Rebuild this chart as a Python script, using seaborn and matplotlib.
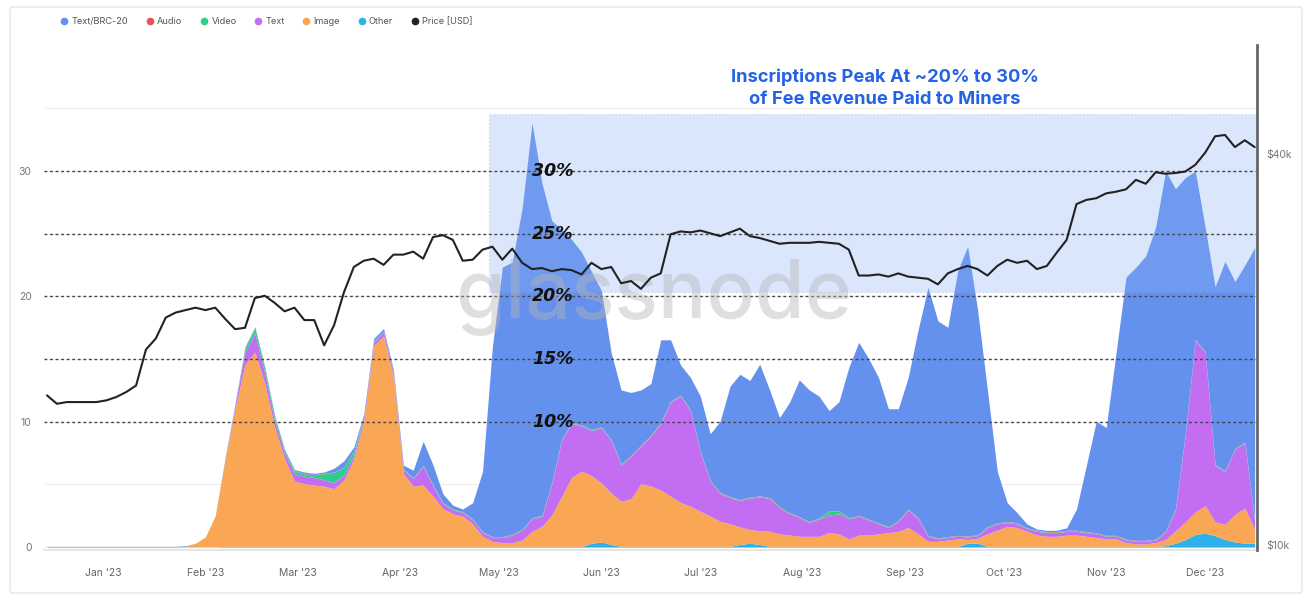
import numpy as np
import pandas as pd
import seaborn as sns
import matplotlib.pyplot as plt
import matplotlib.dates as mdates
from matplotlib.lines import Line2D
from matplotlib.patches import Rectangle, FancyBboxPatch

# Share of fee revenue (%) per inscription type, sampled every 3 days
dates = pd.date_range("2022-12-15", periods=123, freq="3D")

other = [0, 0, 0, 0, 0, 0, 0, 0, 0, 0,
         0, 0, 0, 0, 0, 0, 0, 0, 0.05, 0.05,
         0.05, 0.05, 0.05, 0.05, 0.05, 0.05, 0.05, 0.05, 0.05, 0.05,
         0.05, 0.05, 0.05, 0.05, 0.05, 0.05, 0.05, 0.05, 0.05, 0.05,
         0.05, 0.05, 0.05, 0.05, 0.05, 0.05, 0.05, 0.05, 0.05, 0.05,
         0.05, 0.05, 0.05, 0.05, 0.05, 0.3, 0.4, 0.2, 0.05, 0.05,
         0.05, 0.05, 0.05, 0.05, 0.05, 0.05, 0.05, 0.05, 0.05, 0.05,
         0.2, 0.3, 0.2, 0.05, 0.05, 0.05, 0.05, 0.05, 0.05, 0.05,
         0.05, 0.05, 0.05, 0.05, 0.05, 0.05, 0.05, 0.05, 0.05, 0.05,
         0.05, 0.05, 0.05, 0.3, 0.3, 0.05, 0.05, 0.05, 0.05, 0.05,
         0.05, 0.05, 0.05, 0.05, 0.05, 0.05, 0.05, 0.05, 0.05, 0.05,
         0.05, 0.05, 0.05, 0.1, 0.3, 0.6, 1.0, 1.1, 0.9, 0.6,
         0.4, 0.3, 0.3]

image = [0, 0, 0, 0, 0, 0, 0, 0, 0, 0,
         0, 0, 0, 0, 0.05, 0.3, 0.8, 2.5, 7.0, 11.0,
         14.5, 15.5, 13.0, 9.5, 7.0, 5.2, 5.0, 4.9, 4.8, 4.6,
         5.3, 7.0, 10.0, 16.0, 16.8, 13.5, 5.8, 4.8, 4.9, 4.0,
         3.0, 2.6, 2.4, 1.8, 0.8, 0.4, 0.3, 0.3, 0.5, 1.2,
         1.6, 2.5, 4.0, 5.5, 6.0, 5.4, 4.7, 4.1, 3.6, 3.8,
         5.0, 4.8, 4.5, 4.0, 3.5, 3.2, 2.8, 2.4, 2.0, 1.8,
         1.4, 1.1, 1.1, 1.2, 1.0, 0.9, 0.8, 0.8, 0.8, 1.1,
         1.0, 0.6, 0.9, 0.9, 1.0, 1.1, 1.2, 1.5, 1.0, 0.4,
         0.4, 0.5, 0.6, 0.3, 0.4, 1.0, 1.3, 1.6, 1.5, 1.2,
         0.9, 0.8, 0.8, 0.9, 0.9, 0.8, 0.7, 0.6, 0.6, 0.3,
         0.2, 0.2, 0.3, 0.5, 1.0, 1.4, 1.8, 2.2, 1.1, 1.2,
         2.2, 2.8, 1.1]

text = [0, 0, 0, 0, 0, 0, 0, 0, 0, 0,
        0, 0, 0, 0, 0, 0, 0, 0, 0, 0.3,
        1.0, 1.5, 0.8, 0.5, 0.4, 0.6, 0.6, 0.6, 0.5, 0.5,
        0.4, 0.3, 0.3, 0.3, 0.3, 0.3, 0.3, 0.6, 1.5, 0.8,
        0.4, 0.3, 0.3, 0.3, 0.3, 0.3, 0.4, 0.6, 0.8, 1.0,
        0.8, 2.5, 4.5, 4.3, 3.6, 3.6, 4.4, 4.2, 2.9, 3.4,
        3.0, 4.0, 5.3, 7.5, 8.5, 7.6, 4.7, 2.8, 2.2, 2.1,
        2.1, 2.5, 2.7, 2.6, 2.1, 1.7, 1.5, 1.1, 1.4, 1.4,
        1.6, 1.6, 1.5, 1.2, 0.8, 0.4, 0.8, 1.4, 1.2, 0.4,
        0.2, 0.2, 0.2, 0.2, 0.2, 0.5, 0.5, 0.3, 0.3, 0.2,
        0.3, 0.3, 0.3, 0.3, 0.3, 0.3, 0.3, 0.2, 0.2, 0.2,
        0.2, 0.2, 0.2, 0.6, 1.7, 7.0, 13.7, 12.2, 4.5, 4.2,
        5.2, 5.2, 0.6]

video = [0] * 20 + [0.3, 0.4, 0.4, 0.3, 0.2, 0.2, 0.2, 0.2, 0.5, 0.8,
                    0.6, 0.3] + [0.05] * 47 + [0.3, 0.2] + [0.05] * 42

audio = [0] * 20 + [0.03] * 103

brc20 = [0.05, 0.05, 0.05, 0.05, 0.05, 0.05, 0.05, 0.05, 0.05, 0.05,
         0.05, 0.05, 0.05, 0.05, 0.05, 0, 0, 0, 0.1, 0.1,
         0.1, 0.1, 0.1, 0.1, 0.1, 0.1, 0.1, 0.1, 0.1, 0.3,
         0.5, 0.3, 0.2, 0.2, 0.2, 0.2, 0.3, 0.6, 1.9, 1.6,
         0.7, 0.3, 0.2, 1.3, 4.8, 15.2, 21.5, 21.7, 25.6, 31.5,
         26.5, 20.9, 16.7, 14.6, 13.8, 12.6, 10.9, 6.9, 5.9, 5.0,
         4.4, 4.1, 6.6, 4.9, 2.4, 2.6, 4.4, 3.7, 5.7, 8.8,
         10.0, 9.3, 10.5, 8.6, 7.1, 8.8, 10.9, 10.5, 9.7, 8.0,
         8.7, 12.0, 13.8, 12.8, 11.6, 9.4, 8.9, 10.5, 15.0, 19.8,
         17.3, 16.7, 21.1, 23.1, 18.0, 10.9, 4.1, 1.5, 0.8, 0.3,
         0.1, 0.1, 0.1, 0.2, 1.7, 5.3, 8.9, 8.6, 14.6, 20.9,
         21.8, 22.7, 24.9, 28.7, 25.5, 20.4, 13.4, 9.9, 14.2, 16.7,
         13.3, 14.1, 21.8]

# BTC price in $k
price_k = [17.0, 16.5, 16.6, 16.6, 16.6, 16.6, 16.7, 16.9, 17.2, 17.6,
           20.0, 20.8, 22.4, 22.8, 23.0, 23.2, 23.0, 23.2, 22.3, 21.5,
           21.6, 24.0, 24.2, 23.6, 22.9, 23.2, 22.2, 22.2, 20.3, 21.8,
           24.5, 26.8, 27.4, 27.6, 27.0, 28.0, 28.0, 28.3, 27.6, 29.8,
           30.0, 29.5, 27.4, 27.5, 28.5, 28.8, 27.5, 28.6, 27.2, 26.6,
           26.7, 26.4, 26.6, 26.5, 26.1, 27.2, 26.6, 26.8, 25.3, 25.5,
           24.8, 25.8, 26.2, 30.1, 30.4, 30.3, 30.5, 30.2, 29.9, 30.3,
           30.7, 29.9, 29.7, 29.4, 29.1, 29.2, 29.2, 29.2, 29.3, 29.2,
           29.1, 28.5, 26.0, 26.0, 26.1, 25.9, 26.2, 25.9, 25.8, 25.7,
           25.2, 26.2, 26.6, 26.9, 26.6, 26.0, 26.9, 27.5, 27.2, 27.4,
           26.6, 26.9, 28.2, 29.5, 33.5, 34.0, 34.2, 34.8, 35.0, 35.3,
           36.5, 36.0, 37.5, 37.3, 37.4, 37.6, 38.5, 40.2, 42.6, 42.8,
           41.0, 42.0, 41.0]

labels = ["Text/BRC-20", "Audio", "Video", "Text", "Image", "Other", "Price [USD]"]
colors = ["#6591ee", "#e8525f", "#2fcf8b", "#c36ef2", "#f9a655", "#2db1ec", "#222222"]
pct_levels = [30, 25, 20, 15, 10]

sns.set_theme(style="white")
plt.rcParams["font.family"] = ["Inter", "DejaVu Sans"]

fig = plt.figure(figsize=(13.14, 6.05), dpi=100)
fig.patch.set_facecolor("white")
ax = fig.add_axes([44 / 1314, 55 / 605, 1213 / 1314, 505 / 605])

# light background grid
for lvl in range(0, 40, 5):
    ax.axhline(lvl, color="#eeeeee", lw=0.8, zorder=0)

# stacked areas: bottom -> top
ax.stackplot(dates, other, image, text, video, audio, brc20,
             colors=[colors[5], colors[4], colors[3], colors[2], colors[1], colors[0]],
             linewidth=0, zorder=1)

x0 = mdates.date2num(pd.Timestamp("2023-01-01") - pd.Timedelta(days=17.9))
x1 = mdates.date2num(pd.Timestamp("2023-01-01") + pd.Timedelta(days=349.7))
ax.set_xlim(x0, x1)
ax.set_ylim(-0.24, 40.05)

# highlighted zone
rx = mdates.date2num(pd.Timestamp("2023-04-28"))
ax.add_patch(Rectangle((rx, 20.35), x1 - rx, 14.2, facecolor="#87aff5", alpha=0.3,
                       edgecolor="#7fa6f0", linestyle=":", lw=1, zorder=2))

# dashed percent levels
for lvl in pct_levels:
    ax.axhline(lvl, color="#444444", lw=1, linestyle=(0, (2, 2)), zorder=3)
    ax.text(pd.Timestamp("2023-05-11"), lvl, f"{lvl}%", fontsize=12.5, fontweight="bold",
            fontstyle="italic", family="DejaVu Sans", color="#111111",
            ha="left", va="center", zorder=4)

ax.text(pd.Timestamp("2023-06-17"), 19.9, "glassnode", fontsize=58, color="#b5b5b5",
        alpha=0.42, ha="center", va="center", fontweight="medium", zorder=3)

ax.text(pd.Timestamp("2023-08-26"), 36.6,
        "Inscriptions Peak At ~20% to 30%\nof Fee Revenue Paid to Miners",
        ha="center", va="center", color="#2563e6", fontsize=13.2, fontweight="bold",
        linespacing=1.35, zorder=5)

ax.set_yticks([0, 10, 20, 30])
ax.xaxis.set_major_locator(mdates.MonthLocator())
ax.xaxis.set_major_formatter(mdates.DateFormatter("%b '%y"))
ax.tick_params(axis="x", labelsize=7.5, labelcolor="#666666", length=0, pad=13)
ax.tick_params(axis="y", labelsize=7.5, labelcolor="#777777", length=0, pad=9)
for s in ["left", "top", "right"]:
    ax.spines[s].set_visible(False)
ax.spines["bottom"].set_color("#e2e2e2")

# price on log axis
ax2 = ax.twinx()
sns.lineplot(x=dates, y=np.array(price_k) * 1000, ax=ax2, color=colors[6], lw=1.5, zorder=6)
ax2.set_yscale("log")
ax2.set_ylim(9824, 58884)
ax2.set_yticks([10000, 40000], ["$10k", "$40k"])
ax2.minorticks_off()
ax2.tick_params(axis="y", labelsize=7.5, labelcolor="#777777", length=0, pad=7)
for s in ["left", "top", "bottom"]:
    ax2.spines[s].set_visible(False)
ax2.spines["right"].set_color("#666666")
ax2.spines["right"].set_linewidth(2)
ax.set_xlabel("")
ax.set_ylabel("")
ax2.set_ylabel("")

handles = [Line2D([], [], marker="o", ls="", color=c, markersize=4.5) for c in colors]
fig.legend(handles, labels, loc="upper left", bbox_to_anchor=(52 / 1314, 1 - 9 / 605),
           ncol=7, frameon=False, fontsize=6.6, handlelength=0.9, handletextpad=0.35,
           columnspacing=1.9, labelcolor="#555555")

fig.patches.append(FancyBboxPatch((10 / 1314, 12 / 605), 1292 / 1314, 586 / 605,
                                  boxstyle="round,pad=0,rounding_size=0.004",
                                  transform=fig.transFigure, fill=False,
                                  edgecolor="#e6e6e6", lw=1))

fig.savefig("out.png", dpi=100)
